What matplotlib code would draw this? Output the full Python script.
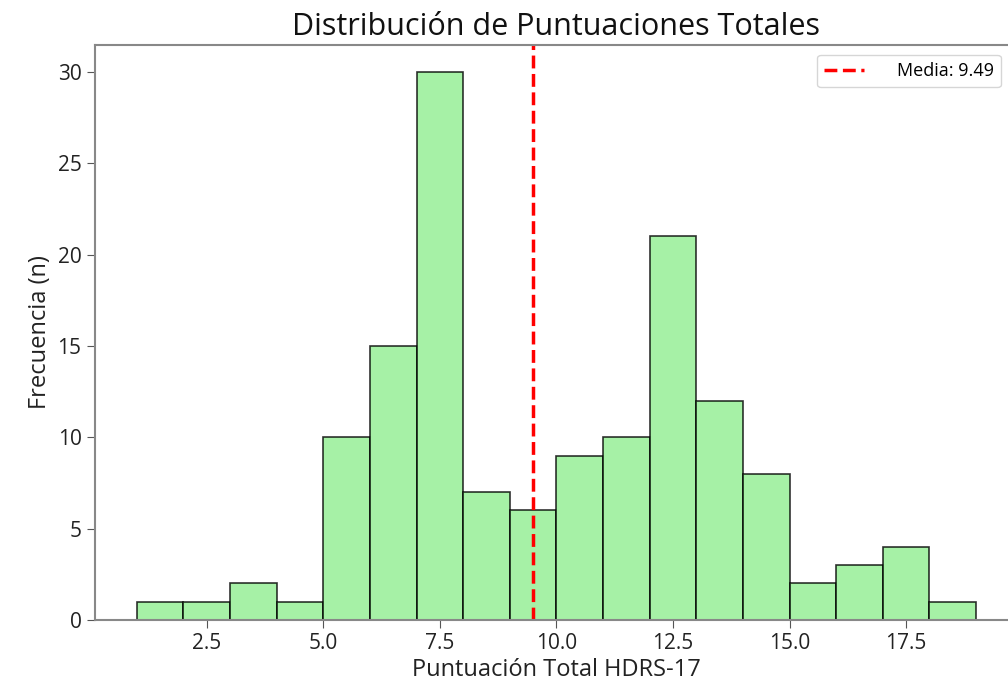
import matplotlib
matplotlib.use("Agg")
import matplotlib.pyplot as plt
import numpy as np

plt.rcParams['font.family'] = ['Open Sans', 'DejaVu Sans']

bin_edges = list(range(1, 20))
counts = [1, 1, 2, 1, 10, 15, 30, 7, 6, 9, 10, 21, 12, 8, 2, 3, 4, 1]
mean_value = 9.49

fig = plt.figure(figsize=(10.08, 6.85), dpi=100)
ax = fig.add_axes([0.094, 0.095, 0.916, 0.84])

ax.hist(bin_edges[:-1], bins=bin_edges, weights=counts,
        color='lightgreen', alpha=0.8, edgecolor='black', linewidth=1.2)
ax.axvline(mean_value, color='red', linestyle='--', linewidth=2.5,
           label=f'Media: {mean_value:.2f}')

ax.set_xlim(0.1, 19.9)
ax.set_ylim(0, 31.5)
ax.set_xticks([2.5, 5.0, 7.5, 10.0, 12.5, 15.0, 17.5])
ax.set_yticks([0, 5, 10, 15, 20, 25, 30])
ax.tick_params(labelsize=15, colors='#222222', length=6, color='#555555')
for s in ax.spines.values():
    s.set_color('#888888')
    s.set_linewidth(1.5)

ax.set_title('Distribución de Puntuaciones Totales', fontsize=22, color='#111111', pad=7)
ax.set_xlabel('Puntuación Total HDRS-17', fontsize=17, color='#222222', labelpad=3)
ax.set_ylabel('Frecuencia (n)', fontsize=17, color='#222222')
ax.legend(loc='upper right', bbox_to_anchor=(0.993, 0.92),
          bbox_transform=fig.transFigure, fontsize=13, borderaxespad=0,
          handletextpad=1.8, handlelength=2.2)

fig.savefig('out.png', dpi=100)
